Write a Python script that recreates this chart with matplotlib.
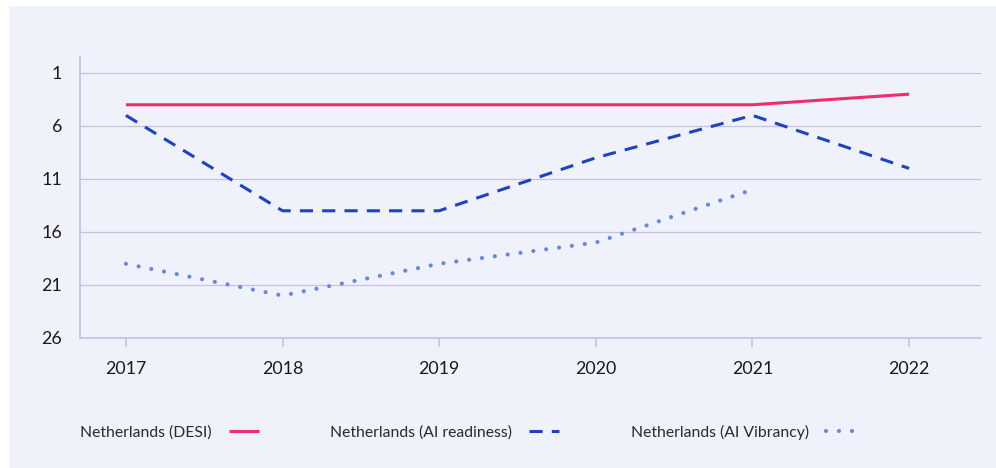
import matplotlib.pyplot as plt
from matplotlib.patches import Rectangle

# data (rank, lower is better)
years = [2017, 2018, 2019, 2020, 2021, 2022]
desi = [4, 4, 4, 4, 4, 3]
ai_readiness = [5, 14, 14, 9, 5, 10]
vib_years = [2017, 2018, 2019, 2020, 2021]
ai_vibrancy = [19, 22, 19, 17, 12]
ytick_vals = [1, 6, 11, 16, 21, 26]

plt.rcParams['font.family'] = ['Lato', 'DejaVu Sans']

W, H = 996, 468
fig = plt.figure(figsize=(W / 100, H / 100), dpi=100, facecolor='white')
bg = '#eff2fa'
fig.patches.append(Rectangle((9 / W, 0), 1 - 9 / W, 1 - 6 / H, transform=fig.transFigure,
                             facecolor=bg, edgecolor='none', zorder=-10))

ax = fig.add_axes([80 / W, (H - 338) / H, (981 - 80) / W, (338 - 56) / H])
ax.set_facecolor(bg)

l1, = ax.plot(years, desi, color='#ee2d6a', lw=2.2, solid_capstyle='butt',
              label='Netherlands (DESI)')
l2, = ax.plot(years, ai_readiness, color='#1f43c0', lw=2.2,
              linestyle=(0, (4.3, 3.0)), dash_capstyle='butt',
              label='Netherlands (AI readiness)')
l3, = ax.plot(vib_years, ai_vibrancy, color='#6b86d8', lw=3.0,
              linestyle=(0, (0.01, 3.1)), dash_capstyle='round',
              label='Netherlands (AI Vibrancy)')

ax.set_ylim(26, -0.6)
ax.set_xlim(2016.707, 2022.459)
ax.set_yticks(ytick_vals)
ax.set_xticks(years)
ax.grid(axis='y', color='#c6c2de', lw=0.9)
ax.set_axisbelow(True)

for s in ['top', 'right']:
    ax.spines[s].set_visible(False)
for s in ['left', 'bottom']:
    ax.spines[s].set_color('#c4bce2')
    ax.spines[s].set_linewidth(1.1)

ax.tick_params(axis='y', length=0, pad=13, labelsize=12.8, labelcolor='#1a1a1a')
ax.tick_params(axis='x', length=6.5, width=1.1, color='#c4bce2', pad=10,
               labelsize=12.8, labelcolor='#1a1a1a')

leg = fig.legend(handles=[l1, l2, l3], loc='center left',
                 bbox_to_anchor=(80 / W, 1 - 432 / H), ncol=3, frameon=False,
                 markerfirst=False, handlelength=1.9, handletextpad=1.1,
                 columnspacing=4.55, borderpad=0, borderaxespad=0, fontsize=11.3,
                 labelcolor='#2a2a2a')

fig.savefig('out.png', dpi=100, facecolor=fig.get_facecolor())
